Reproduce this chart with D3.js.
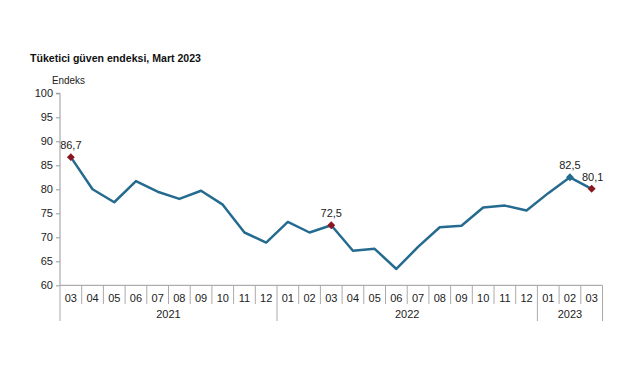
<!DOCTYPE html>
<html><head><meta charset="utf-8">
<script src="https://cdn.jsdelivr.net/npm/d3@7"></script>
<style>body{margin:0;background:#fff;}svg{display:block;font-family:Arial,"Liberation Sans",sans-serif;}</style>
</head><body>
<svg id="c" width="641" height="380"></svg>
<script>
const months = ["03","04","05","06","07","08","09","10","11","12","01","02","03","04","05","06","07","08","09","10","11","12","01","02","03"];
const years = ["2021","2022","2023"];
const yearSpans = [10, 12, 3];
const values = [86.7,80.0,77.3,81.7,79.5,78.0,79.7,76.8,71.0,68.9,73.2,71.0,72.5,67.2,67.6,63.4,68.0,72.1,72.4,76.2,76.6,75.6,79.2,82.5,80.1];
const labeled = [0, 12, 23, 24];
const redMarks = [0, 12, 24];
const blueMarks = [23];
const yTicks = [60,65,70,75,80,85,90,95,100];

const svg = d3.select("#c");
const L = 60, R = 602.5, T = 93.3, B = 285.3;
const x = d3.scaleBand().domain(d3.range(months.length)).range([L, R]);
const y = d3.scaleLinear().domain([60, 100]).range([B, T]);

svg.append("text").attr("x", 30).attr("y", 62).attr("font-size", 11.5).attr("font-weight", "bold")
  .attr("fill", "#111").attr("textLength", 171).attr("lengthAdjust", "spacingAndGlyphs")
  .text("Tüketici güven endeksi, Mart 2023");
svg.append("text").attr("x", 52).attr("y", 84).attr("font-size", 10.5).attr("fill", "#222")
  .attr("textLength", 33).attr("lengthAdjust", "spacingAndGlyphs").text("Endeks");

// y axis
const ya = svg.append("g").attr("transform", `translate(${L},0)`)
  .call(d3.axisLeft(y).tickValues(yTicks).tickSize(4).tickPadding(3).tickFormat(d3.format("d")));
ya.select(".domain").attr("stroke", "#999").attr("d", `M-4,${T}H0V${B}`);
ya.selectAll(".tick line").attr("stroke", "#999");
ya.selectAll(".tick text").attr("font-size", 11).attr("fill", "#222").attr("font-family", "Arial, Liberation Sans, sans-serif");

// x category axis
const g = svg.append("g");
g.append("line").attr("x1", L).attr("x2", R).attr("y1", B).attr("y2", B).attr("stroke", "#999");
const yearStarts = [0];
yearSpans.forEach((s, i) => yearStarts.push(yearStarts[i] + s));
for (let i = 0; i <= months.length; i++) {
  const xx = i < months.length ? x(i) : R;
  const isYear = yearStarts.includes(i);
  g.append("line").attr("x1", xx).attr("x2", xx).attr("y1", B).attr("y2", isYear ? 321 : 304).attr("stroke", "#aaa");
}
g.selectAll("text.m").data(months).join("text").attr("class", "m")
  .attr("x", (d, i) => x(i) + x.bandwidth() / 2).attr("y", 301.5).attr("text-anchor", "middle")
  .attr("font-size", 11).attr("fill", "#222").text(d => d);
g.selectAll("text.yr").data(years).join("text").attr("class", "yr")
  .attr("x", (d, i) => {
    const a = x(yearStarts[i]); const b = yearStarts[i + 1] < months.length ? x(yearStarts[i + 1]) : R;
    return (a + b) / 2;
  }).attr("y", 317.5).attr("text-anchor", "middle").attr("font-size", 11).attr("fill", "#222").text(d => d);

// line
const cx = i => x(i) + x.bandwidth() / 2;
svg.append("path").datum(values).attr("fill", "none").attr("stroke", "#256b8f").attr("stroke-width", 2.5)
  .attr("stroke-linejoin", "round")
  .attr("d", d3.line().x((d, i) => cx(i)).y(d => y(d)));

const diamond = d3.symbol().type(d3.symbolDiamond2).size(40);
svg.selectAll("path.rm").data(redMarks).join("path").attr("class", "rm")
  .attr("transform", i => `translate(${cx(i)},${y(values[i])})`).attr("d", diamond).attr("fill", "#8b1520");
svg.selectAll("path.bm").data(blueMarks).join("path").attr("class", "bm")
  .attr("transform", i => `translate(${cx(i)},${y(values[i])})`).attr("d", diamond).attr("fill", "#256b8f");

svg.selectAll("text.lab").data(labeled).join("text").attr("class", "lab")
  .attr("x", i => cx(i) + (i === 24 ? 1 : 0)).attr("y", i => y(values[i]) - 8)
  .attr("text-anchor", "middle").attr("font-size", 11).attr("fill", "#222")
  .text(i => String(values[i].toFixed(1)).replace(".", ","));
</script>
</body></html>
